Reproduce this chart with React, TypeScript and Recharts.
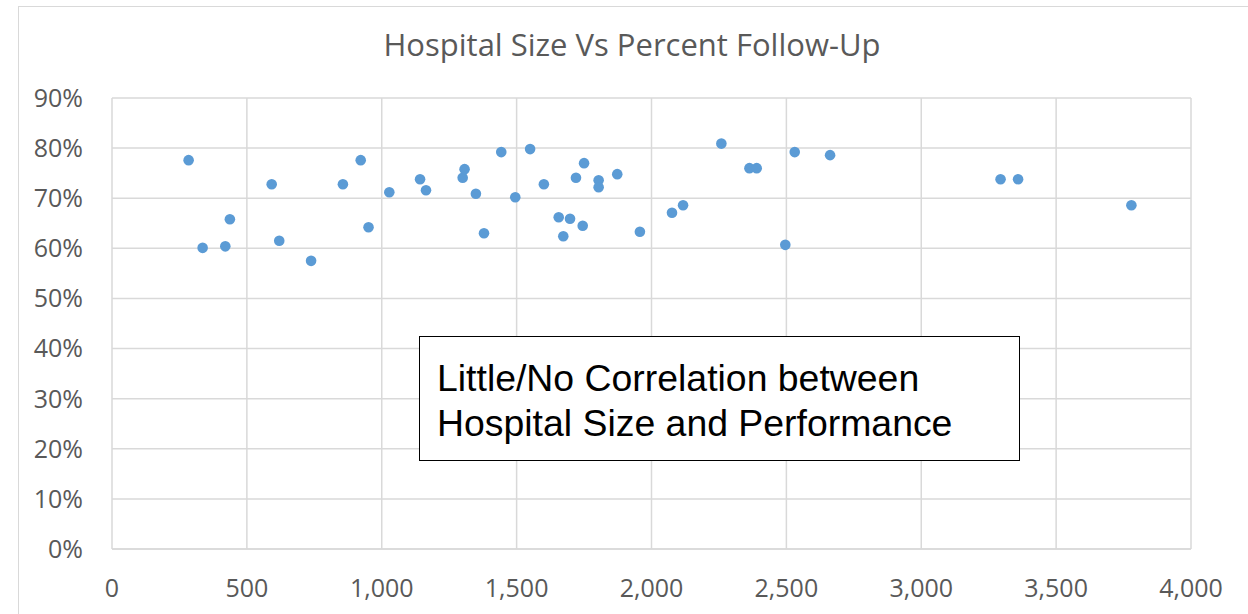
import { CartesianGrid, Scatter, ScatterChart, XAxis, YAxis } from "recharts";

const hospitalSize = [
  284, 336, 420, 437, 592, 620, 738, 856, 922, 951, 1028, 1142, 1164, 1300,
  1307, 1349, 1379, 1443, 1495, 1550, 1601, 1656, 1673, 1698, 1720, 1745,
  1750, 1804, 1804, 1873, 1957, 2076, 2117, 2259, 2363, 2390, 2496, 2531,
  2662, 3294, 3359, 3779,
];
const followUpPct = [
  77.6, 60.1, 60.4, 65.8, 72.8, 61.5, 57.5, 72.8, 77.6, 64.2, 71.2, 73.8,
  71.6, 74.1, 75.8, 70.9, 63.0, 79.2, 70.2, 79.8, 72.8, 66.2, 62.4, 65.9,
  74.1, 64.5, 77.0, 73.6, 72.2, 74.8, 63.3, 67.1, 68.6, 80.9, 76.0, 76.0,
  60.7, 79.2, 78.6, 73.8, 73.8, 68.6,
];
const xTicks = [0, 500, 1000, 1500, 2000, 2500, 3000, 3500, 4000];
const yTicks = [0, 10, 20, 30, 40, 50, 60, 70, 80, 90];

const title = "Hospital Size Vs Percent Follow-Up";
const noteLines = [
  "Little/No Correlation between",
  "Hospital Size and Performance",
];

const points = hospitalSize.map((size, i) => ({ size, pct: followUpPct[i] }));

const tickStyle = {
  fill: "#595959",
  fontSize: 25,
  fontFamily: "'Open Sans', sans-serif",
};

// excel-style round marker
const Dot = (props: any) => (
  <circle cx={props.cx} cy={props.cy} r={5.3} fill="#5b9bd5" />
);

export default function App() {
  return (
    <div
      style={{
        position: "absolute",
        left: 0,
        top: 0,
        width: 1248,
        height: 614,
        overflow: "hidden",
        background: "#fff",
      }}
    >
      <div
        style={{
          position: "absolute",
          left: 18,
          top: 6,
          width: 1300,
          height: 700,
          border: "1.5px solid #d9d9d9",
        }}
      />
      <div
        style={{
          position: "absolute",
          left: 0,
          width: 1264,
          top: 25,
          textAlign: "center",
          fontFamily: "'Open Sans', sans-serif",
          fontSize: 31,
          lineHeight: "38px",
          color: "#595959",
        }}
      >
        {title}
      </div>
      <div style={{ position: "absolute", left: 0, top: 0 }}>
        <ScatterChart
          width={1248}
          height={614}
          margin={{ top: 98, right: 57, bottom: 0, left: 0 }}
        >
          <CartesianGrid stroke="#d9d9d9" strokeWidth={1.5} />
          <XAxis
            type="number"
            dataKey="size"
            domain={[0, 4000]}
            ticks={xTicks}
            interval={0}
            height={65}
            tickSize={0}
            tickMargin={30}
            axisLine={{ stroke: "#d9d9d9", strokeWidth: 1.5 }}
            tickLine={false}
            tick={tickStyle}
            tickFormatter={(v: number) => v.toLocaleString("en-US")}
          />
          <YAxis
            type="number"
            dataKey="pct"
            domain={[0, 90]}
            ticks={yTicks}
            interval={0}
            width={112}
            tickSize={0}
            tickMargin={29}
            axisLine={false}
            tickLine={false}
            tick={tickStyle}
            tickFormatter={(v: number) => `${v}%`}
          />
          <Scatter
            data={points}
            fill="#5b9bd5"
            shape={Dot}
            isAnimationActive={false}
          />
        </ScatterChart>
      </div>
      <div
        style={{
          position: "absolute",
          left: 419,
          top: 336,
          width: 601,
          height: 125,
          boxSizing: "border-box",
          border: "1.5px solid #000",
          background: "#fff",
          padding: "19px 0 0 17px",
          fontFamily: "'Liberation Sans', Arial, sans-serif",
          fontSize: 37.4,
          lineHeight: "45px",
          color: "#000",
        }}
      >
        {noteLines.map((line) => (
          <div key={line} style={{ whiteSpace: "nowrap" }}>
            {line}
          </div>
        ))}
      </div>
    </div>
  );
}
